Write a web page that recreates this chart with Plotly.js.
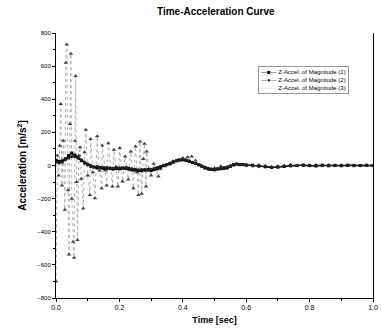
<!DOCTYPE html>
<html><head><meta charset="utf-8">
<script src="https://cdn.plot.ly/plotly-3.0.1.min.js"></script>
<style>html,body{margin:0;padding:0;background:#fff;}#chart{width:382px;height:334px;}</style>
</head><body><div id="chart"></div>
<script>
const chartTitle = "Time-Acceleration Curve";
const xTitle = "Time [sec]";
const yTitle = "Acceleration [m/s<sup>2</sup>]";
const seriesNames = ["Z-Accel. of Magnitude (1)", "Z-Accel. of Magnitude (2)", "Z-Accel. of Magnitude (3)"];

const tBlack = [0.00,0.01,0.02,0.03,0.04,0.05,0.06,0.07,0.08,0.09,0.10,0.11,0.12,0.13,0.14,0.15,0.16,0.17,0.18,0.19,0.20,
  0.21,0.22,0.23,0.24,0.25,0.26,0.27,0.28,0.29,0.30,0.31,0.32,0.33,0.34,0.35,0.36,0.37,0.38,0.39,0.40,
  0.41,0.42,0.43,0.44,0.45,0.46,0.47,0.48,0.49,0.50,0.51,0.52,0.53,0.54,0.55,0.56,0.57,0.58,0.59,0.60,
  0.62,0.64,0.66,0.68,0.70,0.72,0.74,0.76,0.78,0.80,0.82,0.84,0.86,0.88,0.90,0.92,0.94,0.96,0.98,1.00];

const accel1 = [30,25,28,40,60,75,55,45,30,15,5,-5,-10,-15,-12,-18,-20,-15,-22,-18,-20,
  -15,-18,-22,-25,-28,-30,-32,-28,-25,-30,-25,-20,-10,0,5,10,20,28,32,34,
  30,25,18,12,5,-5,-12,-20,-24,-26,-22,-20,-18,-15,-5,5,8,5,6,4,
  2,-4,-8,-12,-10,-6,-2,0,2,0,-3,2,-2,1,-1,2,-1,0,1,0];

const accel2 = [20,15,20,35,45,55,65,50,35,20,10,0,-8,-5,-15,-10,-12,-20,-15,-10,-14,
  -20,-12,-15,-20,-22,-25,-24,-22,-28,-22,-18,-12,-5,2,8,15,22,30,35,38,
  35,28,20,14,6,-2,-10,-16,-20,-22,-20,-15,-12,-8,0,6,10,8,4,2,
  0,-2,-6,-10,-8,-4,0,2,0,-2,1,-1,2,0,-1,1,0,-1,0,0];

const t3 = [0.000,0.004,0.008,0.012,0.015,0.019,0.023,0.028,0.031,0.034,0.038,0.041,0.044,0.047,0.050,0.054,0.057,0.060,0.062,0.065,
  0.068,0.072,0.076,0.080,0.086,0.090,0.094,0.100,0.107,0.109,0.116,0.123,0.130,0.137,0.144,0.146,0.155,0.160,0.165,0.172,
  0.178,0.183,0.189,0.195,0.201,0.206,0.210,0.218,0.223,0.228,0.236,0.240,0.244,0.251,0.256,0.260,0.265,0.270,0.275,0.279,
  0.284,0.286,0.293,0.300,0.308,0.316,0.323,0.330,0.343,0.356,0.369,0.385,0.400,0.415,0.428,0.440,0.455,0.470,0.485,0.500,
  0.52,0.54,0.56,0.58,0.60,0.62,0.64,0.66,0.68,0.70,0.72,0.74,0.76,0.78,0.80,0.82,0.84,0.86,0.88,0.90,0.92,0.94,0.96,0.98,1.00];
const accel3 = [-700,60,-60,120,371,-120,150,-267,620,731,-150,-537,250,675,-200,-460,-557,150,540,-100,
  -450,60,110,-80,-259,80,216,-60,-178,160,-40,-198,176,-30,-137,121,-30,-120,135,-20,
  -127,95,-10,-127,105,-20,-97,55,-10,-85,85,-30,-137,115,-40,-178,145,-170,40,131,
  -127,85,-20,-60,10,-20,-67,-20,-5,10,25,35,45,50,55,30,0,-20,-25,-15,
  -5,-10,0,5,0,-5,3,-2,-8,-5,0,4,-3,2,-2,3,-3,2,-2,1,-2,2,-1,1,0];

const fam = "Liberation Sans, Arial, sans-serif";

const traces = [
  {x: t3, y: accel3, name: seriesNames[2], mode: "lines+markers",
   line: {color: "#b0b0b0", width: 1, dash: "dot"},
   marker: {symbol: "triangle-up", size: 4, color: "#444"}},
  {x: tBlack, y: accel1, name: seriesNames[0], mode: "lines+markers",
   line: {color: "#000", width: 1.3}, marker: {symbol: "square", size: 3, color: "#000"}},
  {x: tBlack, y: accel2, name: seriesNames[1], mode: "lines+markers",
   line: {color: "#222", width: 1.3}, marker: {symbol: "circle", size: 3, color: "#222"}}
];

const legendText =
  "<span style='color:#000'>—■—</span> " + seriesNames[0] + "<br>" +
  "<span style='color:#222'>—●—</span> " + seriesNames[1] + "<br>" +
  "<span style='color:#999'>···○···</span> " + seriesNames[2];

const layout = {
  width: 382, height: 334,
  margin: {l: 56, r: 9, t: 33, b: 36},
  paper_bgcolor: "#fff", plot_bgcolor: "#fff",
  font: {family: fam, color: "#000"},
  showlegend: false,
  annotations: [{
    xref: "paper", yref: "paper", x: 0.637, y: 0.875, xanchor: "left", yanchor: "top",
    text: legendText, align: "left", showarrow: false,
    font: {family: fam, size: 6, color: "#000"},
    bgcolor: "#fff", bordercolor: "#999", borderwidth: 1, borderpad: 2
  }],
  title: {text: "<b>" + chartTitle + "</b>", x: 0.565, xanchor: "center", y: 0.965, yanchor: "middle",
    font: {family: fam, size: 10, color: "#000"}},
  xaxis: {range: [0, 1], tickvals: [0, 0.2, 0.4, 0.6, 0.8, 1.0], ticktext: ["0.0","0.2","0.4","0.6","0.8","1.0"],
    ticks: "outside", ticklen: 3, tickwidth: 1, tickcolor: "#000",
    minor: {dtick: 0.1, ticks: "outside", ticklen: 2, tickcolor: "#000"},
    showline: true, linecolor: "#000", linewidth: 1, mirror: false,
    showgrid: false, zeroline: false,
    tickfont: {family: fam, size: 7, color: "#000"},
    title: {text: "<b>" + xTitle + "</b>", standoff: 6, font: {family: fam, size: 9, color: "#000"}}},
  yaxis: {range: [-800, 800], tickvals: [-800,-600,-400,-200,0,200,400,600,800],
    ticks: "outside", ticklen: 3, tickwidth: 1, tickcolor: "#000",
    minor: {dtick: 100, ticks: "outside", ticklen: 2, tickcolor: "#000"},
    showline: true, linecolor: "#000", linewidth: 1, mirror: true,
    showgrid: false, zeroline: false,
    tickfont: {family: fam, size: 6, color: "#000"},
    title: {text: "<b>" + yTitle + "</b>", standoff: 8, font: {family: fam, size: 10, color: "#000"}}}
};

Plotly.newPlot("chart", traces, layout, {displayModeBar: false, staticPlot: true});
</script></body></html>
